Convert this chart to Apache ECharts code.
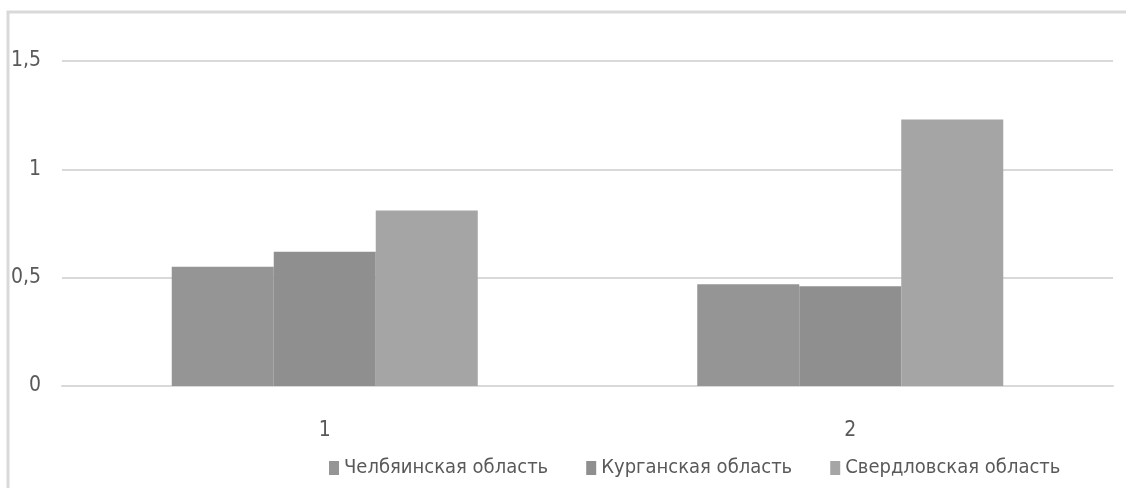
<!DOCTYPE html>
<html>
<head>
<meta charset="utf-8">
<script src="https://cdn.jsdelivr.net/npm/echarts@6/dist/echarts.min.js"></script>
<style>
html, body { margin: 0; padding: 0; background: #fff; }
#main { width: 1126px; height: 488px; }
</style>
</head>
<body>
<div id="main"></div>
<script>
var categories = ['1', '2'];
var seriesNames = ['Челбяинская область', 'Курганская область', 'Свердловская область'];
var chelyabinsk = [0.55, 0.47];
var kurgan = [0.62, 0.46];
var sverdlovsk = [0.81, 1.23];
var yTicks = [0, 0.5, 1, 1.5];

var colors = ['#959595', '#8f8f8f', '#a5a5a5'];
var font = '"DejaVu Sans Condensed", "Liberation Sans Narrow", sans-serif';

var myChart = echarts.init(document.getElementById('main'));
myChart.setOption({
	color : colors,
	animation : false,
	textStyle : { fontFamily : font },
	graphic : [ {
		type : 'polyline',
		shape : { points : [ [ 8, 500 ], [ 8, 12 ], [ 1130, 12 ] ] },
		style : { fill : 'none', stroke : '#d9d9d9', lineWidth : 3 },
		silent : true
	} ],
	grid : {
		left : 62,
		right : 13,
		top : 61,
		bottom : 102
	},
	legend : {
		data : seriesNames,
		left : 324,
		top : 453,
		itemWidth : 10,
		itemHeight : 14,
		itemGap : 38,
		icon : 'rect',
		textStyle : { color : '#595959', fontSize : 20, fontFamily : font }
	},
	xAxis : {
		type : 'category',
		data : categories,
		axisLine : { lineStyle : { color : '#d9d9d9', width : 2 } },
		axisTick : { show : false },
		axisLabel : { color : '#595959', fontSize : 21, margin : 34, fontFamily : font }
	},
	yAxis : {
		type : 'value',
		min : yTicks[0],
		max : yTicks[yTicks.length - 1],
		interval : 0.5,
		axisLine : { show : false },
		axisTick : { show : false },
		splitLine : { lineStyle : { color : '#d9d9d9', width : 2 } },
		axisLabel : {
			color : '#595959',
			fontSize : 21,
			margin : 21,
			fontFamily : font,
			formatter : function(v) {
				return String(v).replace('.', ',');
			}
		}
	},
	series : [ {
		name : seriesNames[0],
		type : 'bar',
		data : chelyabinsk,
		barWidth : 102,
		barGap : '0%'
	}, {
		name : seriesNames[1],
		type : 'bar',
		data : kurgan,
		barWidth : 102,
		barGap : '0%'
	}, {
		name : seriesNames[2],
		type : 'bar',
		data : sverdlovsk,
		barWidth : 102,
		barGap : '0%'
	} ]
});
</script>
</body>
</html>
